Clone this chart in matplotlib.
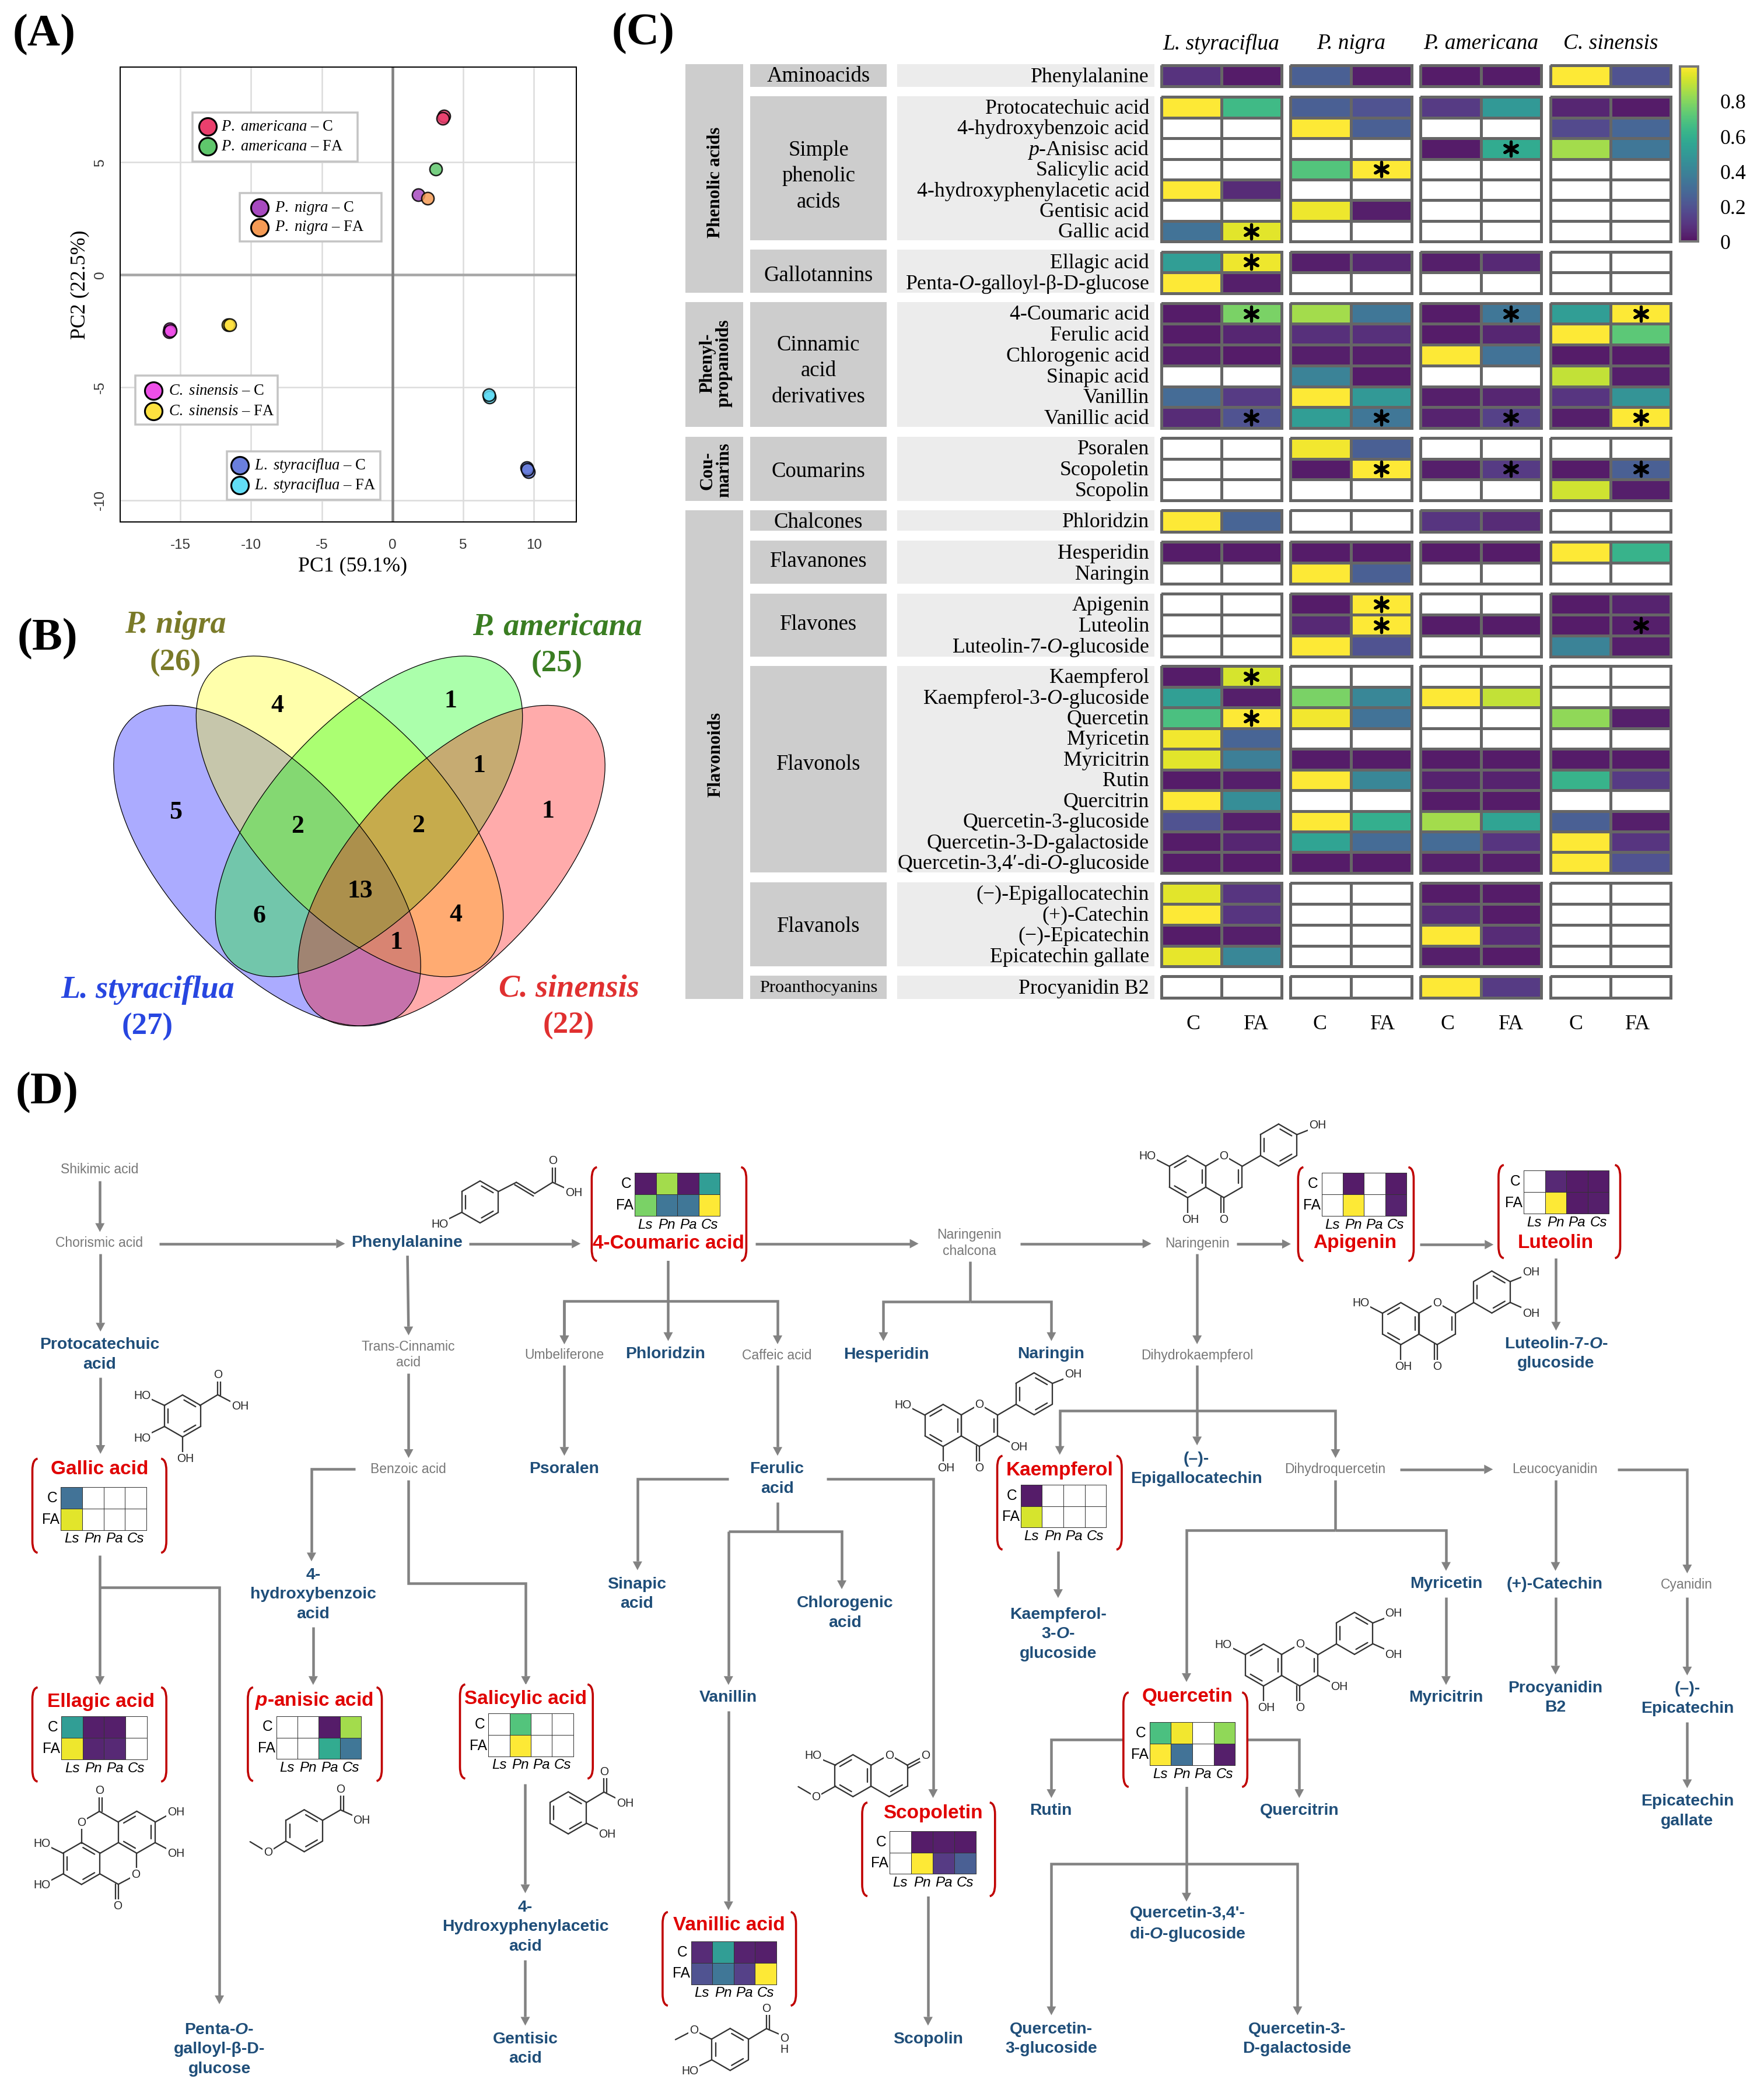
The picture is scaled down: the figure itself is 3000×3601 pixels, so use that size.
import numpy as np
import matplotlib
matplotlib.use('Agg')
import matplotlib.pyplot as plt
from matplotlib.colors import ListedColormap, Normalize
from matplotlib.cm import ScalarMappable
from matplotlib.patches import Rectangle, Ellipse, PathPatch, Polygon
from matplotlib.path import Path

plt.rcParams['font.family'] = ['Liberation Serif', 'DejaVu Sans']
plt.rcParams['mathtext.fontset'] = 'custom'
plt.rcParams['mathtext.it'] = 'Liberation Serif:italic'
plt.rcParams['mathtext.bfit'] = 'Liberation Sans:italic:bold'
plt.rcParams['mathtext.rm'] = 'Liberation Serif'
plt.rcParams['axes.unicode_minus'] = False

W, H = 3000, 3601
SERIF = 'Liberation Serif'
SANS = 'Liberation Sans'

# ---------- DATA: PCA ----------
pca_xticks = [-15, -10, -5, 0, 5, 10]
pca_yticks = [-10, -5, 0, 5]
pa_c_x, pa_c_y = [3.65, 3.54], [7.05, 6.93]
pa_fa_x, pa_fa_y = [3.07], [4.70]
pn_c_x, pn_c_y = [1.82], [3.55]
pn_fa_x, pn_fa_y = [2.49], [3.40]
cs_c_x, cs_c_y = [-15.75, -15.8, -15.72], [-2.40, -2.54, -2.48]
cs_fa_x, cs_fa_y = [-11.63, -11.52], [-2.23, -2.21]
ls_c_x, ls_c_y = [9.59, 9.50, 9.53], [-8.73, -8.55, -8.63]
ls_fa_x, ls_fa_y = [6.85, 6.80], [-5.43, -5.33]

# ---------- DATA: Venn ----------
venn_counts = [5, 4, 1, 1, 1, 2, 2, 13, 6, 4, 1]

# ---------- DATA: heat map (Ls C, Ls FA, Pn C, Pn FA, Pa C, Pa FA, Cs C, Cs FA) ----------
n = np.nan
PANISIC = r'$\mathit{p}$-Anisisc acid'
amino_names = ['Phenylalanine']
amino_vals = [[.09, .02, .25, .03, .02, .02, 1, .2]]
simple_names = ['Protocatechuic acid', '4-hydroxybenzoic acid', PANISIC, 'Salicylic acid',
                '4-hydroxyphenylacetic acid', 'Gentisic acid', 'Gallic acid']
simple_vals = [[1, .65, .25, .2, .12, .5, .05, .02],
               [n, n, 1, .25, n, n, .17, .28],
               [n, n, n, n, .02, .58, .85, .35],
               [n, n, .7, 1, n, n, n, n],
               [1, .07, n, n, n, n, n, n],
               [n, n, .97, .03, n, n, n, n],
               [.33, .95, n, n, n, n, n, n]]
gallo_names = ['Ellagic acid', r'Penta-$\mathit{O}$-galloyl-β-D-glucose']
gallo_vals = [[.52, .97, .03, .05, .03, .06, n, n],
              [1, .03, n, n, n, n, n, n]]
cinn_names = ['4-Coumaric acid', 'Ferulic acid', 'Chlorogenic acid', 'Sinapic acid', 'Vanillin', 'Vanillic acid']
cinn_vals = [[.02, .78, .85, .35, .02, .35, .52, 1],
             [.02, .05, .08, .08, .02, .05, 1, .72],
             [.03, .02, .03, .03, 1, .33, .02, .02],
             [n, n, .4, .02, n, n, .9, .03],
             [.3, .12, 1, .5, .03, .05, .1, .48],
             [.07, .2, .52, .35, .04, .14, .03, 1]]
coum_names = ['Psoralen', 'Scopoletin', 'Scopolin']
coum_vals = [[n, n, .98, .25, n, n, n, n],
             [n, n, .02, 1, .03, .12, .02, .25],
             [n, n, n, n, n, n, .92, .03]]
chalc_names = ['Phloridzin']
chalc_vals = [[1, .27, n, n, .1, .07, n, n]]
flavanone_names = ['Hesperidin', 'Naringin']
flavanone_vals = [[.02, .02, .02, .02, .02, .02, 1, .62],
                  [n, n, 1, .25, n, n, n, n]]
flavone_names = ['Apigenin', 'Luteolin', r'Luteolin-7-$\mathit{O}$-glucoside']
flavone_vals = [[n, n, .02, 1, n, n, .02, .04],
                [n, n, .06, 1, .02, .02, .02, .03],
                [n, n, 1, .2, n, n, .4, .03]]
flavonol_names = ['Kaempferol', r'Kaempferol-3-$\mathit{O}$-glucoside', 'Quercetin', 'Myricetin', 'Myricitrin',
                  'Rutin', 'Quercitrin', 'Quercetin-3-glucoside', 'Quercetin-3-D-galactoside',
                  r'Quercetin-3,4′-di-$\mathit{O}$-glucoside']
flavonol_vals = [[.02, .93, n, n, n, n, n, n],
                 [.53, .03, .78, .42, 1, .9, n, n],
                 [.68, 1, .98, .33, n, n, .82, .03],
                 [.98, .27, n, n, n, n, n, n],
                 [.95, .38, .02, .02, .02, .02, .02, .02],
                 [.02, .03, 1, .42, .04, .04, .62, .12],
                 [1, .45, n, n, .02, .02, n, n],
                 [.2, .03, 1, .6, .85, .55, .25, .03],
                 [.02, .05, .55, .3, .3, .1, 1, .1],
                 [.02, .02, .02, .02, .03, .03, 1, .2]]
flavanol_names = ['(−)-Epigallocatechin', '(+)-Catechin', '(−)-Epicatechin', 'Epicatechin gallate']
flavanol_vals = [[.95, .1, n, n, .02, .02, n, n],
                 [1, .1, n, n, .07, .02, n, n],
                 [.02, .03, n, n, 1, .07, n, n],
                 [.96, .42, n, n, .03, .02, n, n]]
proan_names = ['Procyanidin B2']
proan_vals = [[n, n, n, n, 1, .12, n, n]]
# cells carrying an asterisk: compound -> column indices
starred = {PANISIC: [5], 'Salicylic acid': [3], 'Gallic acid': [1], 'Ellagic acid': [1],
           '4-Coumaric acid': [1, 5, 7], 'Vanillic acid': [1, 3, 5, 7], 'Scopoletin': [3, 5, 7],
           'Apigenin': [3], 'Luteolin': [3, 7], 'Kaempferol': [1], 'Quercetin': [1]}
species = ['L. styraciflua', 'P. nigra', 'P. americana', 'C. sinensis']
treatments = ['C', 'FA'] * 4
mini_species = ['Ls', 'Pn', 'Pa', 'Cs']

# layout of heat blocks (names, values, top, bottom in pixels)
blocks = [(amino_names, amino_vals, 112, 148), (simple_names, simple_vals, 166.5, 414.5),
          (gallo_names, gallo_vals, 431.7, 503.4), (cinn_names, cinn_vals, 520, 734),
          (coum_names, coum_vals, 751, 858), (chalc_names, chalc_vals, 875.4, 912.4),
          (flavanone_names, flavanone_vals, 928.8, 1001.5), (flavone_names, flavone_vals, 1018.4, 1125.7),
          (flavonol_names, flavonol_vals, 1142.6, 1497), (flavanol_names, flavanol_vals, 1514, 1657.6),
          (proan_names, proan_vals, 1674, 1711.6)]
all_rows = {}
for nm, vl, _, _ in blocks:
    for a, b in zip(nm, vl):
        all_rows[a] = b

# colormap: viridis drawn slightly transparent over white
base = plt.get_cmap('viridis')(np.linspace(0, 1, 256))[:, :3]
vir = ListedColormap(base * 0.92 + 0.08)
vir.set_bad('white')
norm = Normalize(0, 1)


def pt(px):
    return px * 72 / 300


fig = plt.figure(figsize=(W / 300, (H + 0.2) / 300), dpi=300, facecolor='white')


def axpx(x0, y0, x1, y1, **kw):
    return fig.add_axes([x0 / W, 1 - y1 / H, (x1 - x0) / W, (y1 - y0) / H], **kw)


ov = fig.add_axes([0, 0, 1, 1], zorder=3)
ov.set_xlim(0, W)
ov.set_ylim(H, 0)
ov.axis('off')
ov.patch.set_alpha(0)


def txt(x, y, s, size, family=SERIF, color='black', ha='center', va='center', **kw):
    kw.setdefault('linespacing', 1.1)
    return ov.text(x, y, s, fontsize=size, family=family, color=color, ha=ha, va=va, **kw)


for lab, x, y in [('(A)', 76, 60), ('(B)', 81, 1096), ('(C)', 1103, 58), ('(D)', 81, 1874)]:
    txt(x, y, lab, 18.7, weight='bold')

# ---------- PANEL A ----------
axA = axpx(205.6, 115, 988, 895, zorder=1)
axA.set_xlim(-19.27, 12.99)
axA.set_ylim(-10.96, 9.22)
axA.set_xticks(pca_xticks)
axA.set_yticks(pca_yticks)
axA.grid(True, color='#dcdcdc', lw=pt(2.5))
axA.set_axisbelow(True)
axA.axhline(0, color='#a6a6a6', lw=pt(4.5), zorder=1.5)
axA.axvline(0, color='#808080', lw=pt(4.5), zorder=1.6)
axA.tick_params(axis='x', length=0, labelsize=5.8, labelcolor='#333333', pad=7)
axA.tick_params(axis='y', length=0, labelsize=5.8, labelcolor='#333333', pad=5.5)
for t in axA.get_xticklabels() + axA.get_yticklabels():
    t.set_family(SANS)
for t in axA.get_yticklabels():
    t.set_rotation(90)
    t.set_va('center')
for s in axA.spines.values():
    s.set_linewidth(pt(2))
axA.set_xlabel('PC1 (59.1%)', fontsize=8.6, va='center')
axA.set_ylabel('PC2 (22.5%)', fontsize=8.6, va='center')
axA.xaxis.set_label_coords(0.51, -0.0974)
axA.yaxis.set_label_coords(-0.0877, 0.522)
pca_groups = [(pa_c_x, pa_c_y, '#EA3F6D'), (pa_fa_x, pa_fa_y, '#5FC76C'), (pn_c_x, pn_c_y, '#A74AC0'),
              (pn_fa_x, pn_fa_y, '#F59B55'), (cs_c_x, cs_c_y, '#EE4FE8'), (cs_fa_x, cs_fa_y, '#FFE23F'),
              (ls_c_x, ls_c_y, '#6A7FDD'), (ls_fa_x, ls_fa_y, '#62DDF5')]
for gx, gy, c in pca_groups:
    axA.scatter(gx, gy, s=26, color=c, edgecolor='black', linewidth=0.6, alpha=0.85, zorder=3)
legends = [((329.5, 193, 613, 277.5), 356, 379, [(217.5, 'P.\\ americana', 'C', '#EA3F6D'), (251, 'P.\\ americana', 'FA', '#5FC76C')]),
           ((411, 331, 654, 414.5), 445, 471, [(356.5, 'P.\\ nigra', 'C', '#A74AC0'), (390, 'P.\\ nigra', 'FA', '#F59B55')]),
           ((232, 644, 475.5, 728), 263, 289, [(670, 'C.\\ sinensis', 'C', '#EE4FE8'), (705, 'C.\\ sinensis', 'FA', '#FFE23F')]),
           ((388.5, 774, 652, 857), 410.6, 436, [(798, 'L.\\ styraciflua', 'C', '#6A7FDD'), (832, 'L.\\ styraciflua', 'FA', '#62DDF5')])]
for (x0, y0, x1, y1), mx, tx, rows in legends:
    ov.add_patch(Rectangle((x0, y0), x1 - x0, y1 - y0, fc='white', ec='#c4c4c4', lw=pt(3.5), zorder=2))
    for yy, sp, tr, c in rows:
        ov.scatter([mx], [yy], s=52, color=c, edgecolor='black', linewidth=0.75, zorder=3)
        txt(tx, yy, r'$\mathit{%s}$ – %s' % (sp, tr), 6.4, ha='left', zorder=3)

# ---------- PANEL B ----------
venn_ell = [((458, 1484.5), 47, '#0000ff'), ((599.5, 1400), 47, '#ffff00'),
            ((632.5, 1400), -47, '#00ff00'), ((774, 1484.5), -47, '#ff0000')]
for c, ang, col in venn_ell:
    ov.add_patch(Ellipse(c, 686, 330, angle=ang, fc=col, ec='none', alpha=0.33))
for c, ang, col in venn_ell:
    ov.add_patch(Ellipse(c, 686, 330, angle=ang, fc='none', ec='black', lw=0.3))
venn_pos = [(301, 1393), (475, 1210), (772, 1202), (821, 1313), (939, 1391), (510, 1417), (717, 1416),
            (617, 1528), (444, 1571), (781, 1569), (679, 1616)]
for v, (x, y) in zip(venn_counts, venn_pos):
    txt(x, y, str(v), 10.5, weight='bold')
venn_labels = [('P. nigra', '(26)', 301, 1072, 1137, '#7A7A28'), ('P. americana', '(25)', 955, 1075, 1139, '#3A7D22'),
               ('L. styraciflua', '(27)', 253, 1698, 1761, '#2746E0'), ('C. sinensis', '(22)', 975, 1695, 1759, '#E03030')]
for a, b, x, y1, y2, c in venn_labels:
    txt(x, y1, a, 13, color=c, weight='bold', style='italic')
    txt(x, y2, b, 12.7, color=c, weight='bold')

# ---------- PANEL C ----------
col_edges = [(1991, 2196.5), (2212, 2419.5), (2435, 2642), (2658, 2864)]
cat_rects = [(110, 502, 'Phenolic acids', 313), (518, 732.5, 'Phenyl-\npropanoids', 623),
             (749, 859, 'Cou-\nmarins', 806.5), (875, 1713, 'Flavonoids', 1294)]
for y0, y1, s, yc in cat_rects:
    ov.add_patch(Rectangle((1175, y0), 99, y1 - y0, fc='#cdcdcd', ec='none'))
    txt(1227, yc, s, 7.5, weight='bold', rotation=90, linespacing=1.0)
sub_rects = [(110, 149, [('Aminoacids', 129)]),
             (165, 412, [('Simple', 255.5), ('phenolic', 300), ('acids', 344.5)]),
             (428, 502, [('Gallotannins', 471)]),
             (518, 732, [('Cinnamic', 589.5), ('acid', 634), ('derivatives', 679)]),
             (749, 859, [('Coumarins', 806.5)]), (875, 910.6, [('Chalcones', 893.6)]),
             (927, 1001.5, [('Flavanones', 961)]), (1018, 1126, [('Flavones', 1069)]),
             (1142, 1496.5, [('Flavonols', 1309)]), (1513, 1657.6, [('Flavanols', 1587)]),
             (1673, 1713, [('Proanthocyanins', 1692)])]
for y0, y1, items in sub_rects:
    ov.add_patch(Rectangle((1286, y0), 234, y1 - y0, fc='#cdcdcd', ec='none'))
    ov.add_patch(Rectangle((1538, y0), 441, y1 - y0, fc='#ececec', ec='none'))
    for s, yc in items:
        txt(1403, yc + 2, s, 7.3 if s == 'Proanthocyanins' else 8.8)
for names, vals, y0, y1 in blocks:
    ye = np.linspace(y0, y1, len(names) + 1)
    arr = np.ma.masked_invalid(np.array(vals, float))
    for j, (cx0, cx1) in enumerate(col_edges):
        xe = [cx0, (cx0 + cx1) / 2, cx1]
        ov.pcolormesh(xe, ye, arr[:, 2 * j:2 * j + 2], cmap=vir, norm=norm, edgecolors='#666666',
                      linewidth=pt(5), zorder=2)
    for i, nm in enumerate(names):
        yc = (ye[i] + ye[i + 1]) / 2
        txt(1970, yc + 2, nm, 8.6, ha='right')
        for c in starred.get(nm, []):
            cx0, cx1 = col_edges[c // 2]
            xc = cx0 + (cx1 - cx0) * (0.25 + 0.5 * (c % 2))
            ov.scatter([xc], [yc], marker=(6, 2, 0), s=34, color='black', linewidth=1.25, zorder=4)
for (cx0, cx1), sp in zip(col_edges, species):
    txt((cx0 + cx1) / 2, 75, sp, 9, style='italic')
label_x = [2045.5, 2154, 2262.5, 2371, 2481, 2590.5, 2701, 2808]
for x, t in zip(label_x, treatments):
    txt(x, 1756, t, 8.6)
cax = axpx(2880, 113.7, 2911.5, 414.5, zorder=2)
cb = fig.colorbar(ScalarMappable(norm=norm, cmap=vir), cax=cax)
cb.set_ticks([0, .2, .4, .6, .8])
cb.set_ticklabels(['0', '0.2', '0.4', '0.6', '0.8'])
cb.ax.tick_params(length=0, labelsize=8.6, pad=9)
cb.outline.set_edgecolor('#777777')
cb.outline.set_linewidth(pt(4))


# ---------- PANEL D ----------
def A(x, y):
    return (x / 1.045, 1950 + y / 1.845)


def B(x, y):
    return (1500 + x / 1.045, 1950 + y / 1.845)


def C(x, y):
    return (x / 1.045, 2800 + y / 1.96)


def D(x, y):
    return (1500 + x / 1.045, 2800 + y / 1.96)


GR = '#828282'


def arrow(*pts):
    xs, ys = zip(*pts)
    p0, p1 = np.array(pts[-2], float), np.array(pts[-1], float)
    u = (p1 - p0) / np.hypot(*(p1 - p0))
    v = np.array([-u[1], u[0]])
    base_pt = p1 - u * 15
    ov.plot(list(xs[:-1]) + [base_pt[0]], list(ys[:-1]) + [base_pt[1]], color=GR, lw=pt(4.5), solid_capstyle='butt',
            solid_joinstyle='miter', zorder=1.5)
    ov.add_patch(Polygon([p1, base_pt + v * 8, base_pt - v * 8], fc=GR, ec='none', zorder=1.5))


def line(*pts):
    xs, ys = zip(*pts)
    ov.plot(xs, ys, color=GR, lw=pt(4.5), solid_capstyle='butt', solid_joinstyle='miter', zorder=1.5)


arrows = [[A(179, 138), A(179, 300)], [A(180, 370), A(180, 615)], [A(285, 337), A(618, 337)],
          [A(840, 337), A(1040, 337)], [A(180, 760), A(180, 1002)], [A(730, 375), A(732, 627)],
          [A(732, 747), A(732, 1015)], [A(1197, 380), A(1197, 645)], [A(1011, 518), A(1011, 655)],
          [A(1197, 518), A(1393, 518), A(1393, 655)], [A(1197, 518), A(1011, 518), A(1011, 655)],
          [A(1011, 722), A(1011, 1008)], [A(1393, 722), A(1393, 1008)],
          [A(636, 1050), A(558, 1050), A(558, 1342)],
          [A(732, 1085), A(732, 1412), A(942, 1412), C(942, 175)], [A(179, 1323), C(179, 175)],
          [A(179, 1425), A(393, 1425), C(393, 1248)], [A(561, 1550), C(561, 175)],
          [A(1305, 1081), A(1142, 1081), A(1142, 1370)], [A(1481, 1081), B(104, 1081), D(104, 555)],
          [A(1305, 1248), A(1508, 1248), A(1508, 1430)], [A(1305, 1248), C(1305, 175)],
          [C(1305, 262), C(1305, 932)], [C(941, 507), C(941, 875)], [C(941, 1100), C(941, 1320)],
          [A(1353, 337), B(78, 337)], [B(260, 337), B(495, 337)], [B(648, 338), B(745, 338)],
          [B(976, 340), B(1108, 340)], [B(170, 520), B(15, 520), B(15, 645)], [B(170, 520), B(316, 520), B(316, 645)],
          [B(577, 370), B(577, 655)], [B(577, 722), B(577, 975)], [B(577, 865), B(331, 865), B(331, 1005)],
          [B(577, 865), B(825, 865), B(825, 1015)], [B(940, 1051), B(1107, 1051)],
          [B(1330, 1051), B(1455, 1051), B(1455, 1380)], [B(1219, 1085), B(1219, 1372)],
          [B(1455, 1455), D(1455, 143)], [D(1455, 300), D(1455, 522)], [B(1219, 1455), D(1219, 140)],
          [B(1023, 1455), D(1023, 175)], [B(1220, 380), B(1220, 612)], [B(328, 1310), B(328, 1458)],
          [B(825, 1243), B(558, 1243), D(558, 165)], [B(825, 1243), B(1023, 1243), B(1023, 1372)],
          [D(445, 358), D(316, 358), D(316, 555)], [D(667, 358), D(760, 358), D(760, 555)],
          [D(558, 510), D(558, 903)], [D(558, 776), D(316, 776), D(316, 1285)],
          [D(558, 776), D(757, 776), D(757, 1285)], [D(95, 872), D(95, 1320)]]
for a in arrows:
    arrow(*a)
lines = [[A(1393, 1155), A(1393, 1248)], [B(170, 393), B(170, 520)], [B(825, 1085), B(825, 1243)]]
for l in lines:
    line(*l)

gray_labels = [('Shikimic acid', A(178, 103)), ('Chorismic acid', A(178, 335)), ('Trans-Cinnamic\nacid', A(731, 688)),
               ('Umbeliferone', A(1011, 688)), ('Caffeic acid', A(1392, 690)), ('Benzoic acid', A(731, 1050)),
               ('Naringenin\nchalcona', B(169, 335)), ('Naringenin', B(577, 336)),
               ('Dihydrokaempferol', B(577, 690)), ('Dihydroquercetin', B(824, 1050)),
               ('Leucocyanidin', B(1218, 1050)), ('Cyanidin', B(1454, 1415))]
for s, (x, y) in gray_labels:
    txt(x, y, s, 5.5, family=SANS, color='#777777', linespacing=1.25)
O_B = r'$\mathbfit{O}$'
navy_labels = [('Phenylalanine', A(729, 334)), ('Protocatechuic\nacid', A(178, 688)), ('Phloridzin', A(1192, 687)),
               ('Hesperidin', A(1588, 688)), ('Psoralen', A(1011, 1050)), ('Ferulic\nacid', A(1392, 1081)),
               ('4-\nhydroxybenzoic\nacid', A(561, 1447)), ('Sinapic\nacid', A(1141, 1445)),
               ('Chlorogenic\nacid', A(1514, 1505)), ('Naringin', B(315, 687)),
               ('Luteolin-7-%s-\nglucoside' % O_B, B(1220, 685)), ('(–)-\nEpigallocatechin', B(576, 1050)),
               ('Myricetin', B(1023, 1413)), ('(+)-Catechin', B(1218, 1415)),
               ('Kaempferol-\n3-%s-\nglucoside' % O_B, B(328, 1572)),
               ('4-\nHydroxyphenylacetic\nacid', C(941, 988)), ('Gentisic\nacid', C(941, 1398)), ('Vanillin', C(1305, 217)),
               ('Penta-%s-\ngalloyl-β-D-\nglucose' % O_B, C(393, 1400)), ('(–)-\nEpicatechin', D(1455, 221)),
               ('Epicatechin\ngallate', D(1455, 600)), ('Procyanidin\nB2', D(1219, 218)), ('Myricitrin', D(1023, 217)),
               ('Rutin', D(315, 597)), ('Quercitrin', D(760, 597)), ('Quercetin-3,4\'-\ndi-%s-glucoside' % O_B, D(560, 980)),
               ('Quercetin-\n3-glucoside', D(316, 1365)), ('Quercetin-3-\nD-galactoside', D(756, 1365)),
               ('Scopolin', D(95, 1365))]
for s, (x, y) in navy_labels:
    txt(x, y, s, 6.8, family=SANS, color='#1F4E79', weight='bold', linespacing=1.38)


def bracket(x0, x1, y0, y1):
    w, h = 9, 20
    RED = '#C00000'
    for xa, sgn in ((x0, 1), (x1, -1)):
        verts = [(xa + sgn * w, y0), (xa, y0 + 2), (xa, y0 + h), (xa, y1 - h), (xa, y1 - 2), (xa + sgn * w, y1)]
        codes = [Path.MOVETO, Path.CURVE3, Path.CURVE3, Path.LINETO, Path.CURVE3, Path.CURVE3]
        ov.add_patch(PathPatch(Path(verts, codes), fc='none', ec=RED, lw=pt(3.6), zorder=2))


P_ANI = r'$\mathbfit{p}$-anisic acid'
nodes = [('4-Coumaric acid', '4-Coumaric acid', A, (1060, 1337, 95, 392), (1137, 1290, 113, 250), (1197, 336)),
         ('Gallic acid', 'Gallic acid', A, (58, 298, 1017, 1315), (109, 262, 1108, 1243), (178, 1050)),
         ('Apigenin', 'Apigenin', B, (758, 965, 95, 392), (800, 952, 113, 250), (860, 335)),
         ('Luteolin', 'Luteolin', B, (1117, 1335, 88, 383), (1162, 1315, 105, 242), (1219, 335)),
         ('Kaempferol', 'Kaempferol', B, (219, 442, 1008, 1305), (261, 414, 1100, 1235), (331, 1055)),
         ('Ellagic acid', 'Ellagic acid', C, (58, 298, 183, 500), (110, 263, 281, 426), (181, 231)),
         (P_ANI, PANISIC, C, (444, 684, 183, 498), (495, 647, 280, 424), (563, 229)),
         ('Salicylic acid', 'Salicylic acid', C, (824, 1062, 173, 490), (875, 1027, 271, 415), (942, 222)),
         ('Vanillic acid', 'Vanillic acid', C, (1187, 1426, 938, 1253), (1238, 1391, 1037, 1181), (1306, 982)),
         ('Scopoletin', 'Scopoletin', D, (-23, 215, 570, 885), (26, 181, 667, 810), (104, 606)),
         ('Quercetin', 'Quercetin', D, (445, 667, 200, 518), (492, 645, 300, 445), (560, 215))]
for title, key, q, br, mn, tp in nodes:
    x0, y0 = q(br[0], br[2])
    x1, y1 = q(br[1], br[3])
    ov.add_patch(Rectangle((x0, y0), x1 - x0, y1 - y0, fc='white', ec='none', zorder=1.8))
    bracket(x0, x1, y0, y1)
    mx0, my0 = q(mn[0], mn[2])
    mx1, my1 = q(mn[1], mn[3])
    vals = np.array(all_rows[key], float)
    mat = np.ma.masked_invalid(np.array([vals[0::2], vals[1::2]]))
    xe = np.linspace(mx0, mx1, 5)
    ye = np.linspace(my0, my1, 3)
    ov.pcolormesh(xe, ye, mat, cmap=vir, norm=norm, edgecolors='#333333', linewidth=0.18, zorder=2)
    for s, yy, dx in (('C', (ye[0] + ye[1]) / 2, 6), ('FA', (ye[1] + ye[2]) / 2, 2)):
        txt(mx0 - dx, yy, s, 5.9, family=SANS, ha='right', zorder=3)
    for i, sp in enumerate(mini_species):
        txt((xe[i] + xe[i + 1]) / 2, my1 + 15, sp, 5.8, family=SANS, style='italic', zorder=3)
    tx, ty = q(*tp)
    txt(tx, ty, title, 8.0, family=SANS, color='#E00000', weight='bold', zorder=3)

BK = '#333333'


def seg(p, q_, double=False):
    ov.plot([p[0], q_[0]], [p[1], q_[1]], color=BK, lw=pt(2.3), zorder=2, solid_capstyle='round')
    if double:
        p, q_ = np.array(p), np.array(q_)
        u = (q_ - p) / np.hypot(*(q_ - p))
        v = np.array([-u[1], u[0]]) * 5
        ov.plot([p[0] + v[0], q_[0] + v[0]], [p[1] + v[1], q_[1] + v[1]], color=BK, lw=pt(2.3), zorder=2)


def ring(c, r=36, dbl=(0, 2, 4), edges=range(6)):
    vs = [(c[0] + r * np.sin(np.radians(60 * k)), c[1] - r * np.cos(np.radians(60 * k))) for k in range(6)]
    for k in edges:
        a, b = np.array(vs[k]), np.array(vs[(k + 1) % 6])
        seg(a, b)
        if k in dbl:
            m = np.array(c)
            a2 = a + (m - a) * 0.2 + (b - a) * 0.08
            b2 = b + (m - b) * 0.2 - (b - a) * 0.08
            seg(a2, b2)
    return vs


def atom(s, p):
    ov.text(p[0], p[1], s, fontsize=4.7, family=SANS, color='#222222', ha='center', va='center', zorder=3,
            linespacing=1.0, bbox=dict(fc='white', ec='none', pad=0.4))


def flav(c, oh3=False, oh3p=False):
    def r(dx, dy):
        return (c[0] + dx / 1.045, c[1] + dy / 1.845)
    ring(c, dbl=(1, 3, 5))
    ring(r(65, 0), dbl=(1,))
    ring(r(163, -100), dbl=(0, 2, 4))
    seg(r(65, 66), r(65, 120), double=True)
    seg(r(0, 66), r(0, 118))
    seg(r(-33, -33), r(-57, -55))
    seg(r(98, -33), r(130, -66))
    seg(r(196, -133), r(220, -150))
    atom('O', r(65, -66))
    atom('HO', r(-72, -65))
    atom('OH', r(5, 135))
    atom('O', r(65, 135))
    atom('OH', r(233, -163))
    if oh3:
        seg(r(98, 33), r(122, 55))
        atom('OH', r(136, 68))
    if oh3p:
        seg(r(196, -67), r(220, -48))
        atom('OH', r(233, -32))


flav(B(560, 125))
flav(B(942, 590), oh3p=True)
flav(B(122, 912), oh3=True)
flav(D(696, 108), oh3=True, oh3p=True)

# 4-coumaric acid
ring(A(860, 205))
seg(A(827, 238), A(800, 262)); seg(A(893, 172), A(925, 143)); seg(A(925, 143), A(958, 178), True)
seg(A(958, 178), A(990, 143)); seg(A(990, 143), A(990, 90), True); seg(A(990, 143), A(1017, 165))
atom('HO', A(788, 275)); atom('O', A(990, 75)); atom('OH', A(1028, 176))
# gallic acid
ring(A(327, 882))
seg(A(358, 849), A(390, 815)); seg(A(390, 815), A(390, 765), True); seg(A(390, 815), A(417, 840))
seg(A(295, 849), A(272, 830)); seg(A(295, 915), A(272, 935)); seg(A(327, 948), A(327, 1005))
atom('HO', A(255, 818)); atom('OH', A(430, 851)); atom('O', A(390, 752)); atom('HO', A(255, 952)); atom('OH', A(332, 1018))
# ellagic acid
ring(C(245, 670), dbl=(1, 3, 5))
ring(C(146, 775), dbl=(0, 2, 4))
seg(C(278, 636), C(303, 610)); seg(C(278, 705), C(303, 730)); seg(C(113, 741), C(88, 718)); seg(C(113, 810), C(88, 835))
seg(C(212, 636), C(178, 600)); seg(C(178, 600), C(146, 635)); seg(C(146, 635), C(146, 707)); seg(C(178, 600), C(178, 545), True)
seg(C(245, 740), C(245, 812)); seg(C(245, 812), C(212, 845)); seg(C(212, 845), C(179, 810)); seg(C(212, 845), C(212, 905), True)
seg(C(212, 705), C(179, 741))
atom('O', C(178, 530)); atom('O', C(146, 637)); atom('OH', C(315, 602)); atom('OH', C(315, 742))
atom('HO', C(75, 708)); atom('HO', C(75, 848)); atom('O', C(243, 812)); atom('O', C(211, 918))
# anisic acid
ring(C(545, 665))
seg(C(578, 630), C(610, 595)); seg(C(610, 595), C(610, 540), True); seg(C(610, 595), C(637, 618))
seg(C(512, 700), C(480, 738)); seg(C(480, 738), C(448, 702))
atom('O', C(610, 525)); atom('OH', C(648, 630)); atom('O', C(480, 738))
# salicylic acid
ring(C(1018, 605))
seg(C(1051, 570), C(1082, 535)); seg(C(1082, 535), C(1082, 480), True); seg(C(1082, 535), C(1108, 560)); seg(C(1051, 640), C(1075, 662))
atom('O', C(1082, 467)); atom('OH', C(1120, 572)); atom('OH', C(1088, 677))
# vanillic acid
ring(C(1308, 1400))
seg(C(1341, 1366), C(1373, 1330)); seg(C(1373, 1330), C(1373, 1275), True); seg(C(1373, 1330), C(1400, 1352))
seg(C(1275, 1366), C(1243, 1335)); seg(C(1243, 1335), C(1210, 1367)); seg(C(1275, 1435), C(1250, 1458))
atom('O', C(1373, 1262)); atom('O\nH', C(1405, 1382)); atom('O', C(1243, 1335)); atom('HO', C(1236, 1472))
# scopoletin
ring(C(1528, 480), dbl=(1, 3, 5))
ring(C(1593, 480), dbl=(2,))
seg(C(1625, 445), C(1650, 420), True); seg(C(1497, 445), C(1472, 425)); seg(C(1497, 515), C(1462, 552)); seg(C(1462, 552), C(1430, 517))
atom('O', C(1593, 412)); atom('O', C(1658, 412)); atom('HO', C(1457, 413)); atom('O', C(1462, 552))

fig.savefig('out.png', dpi=300, facecolor='white')
